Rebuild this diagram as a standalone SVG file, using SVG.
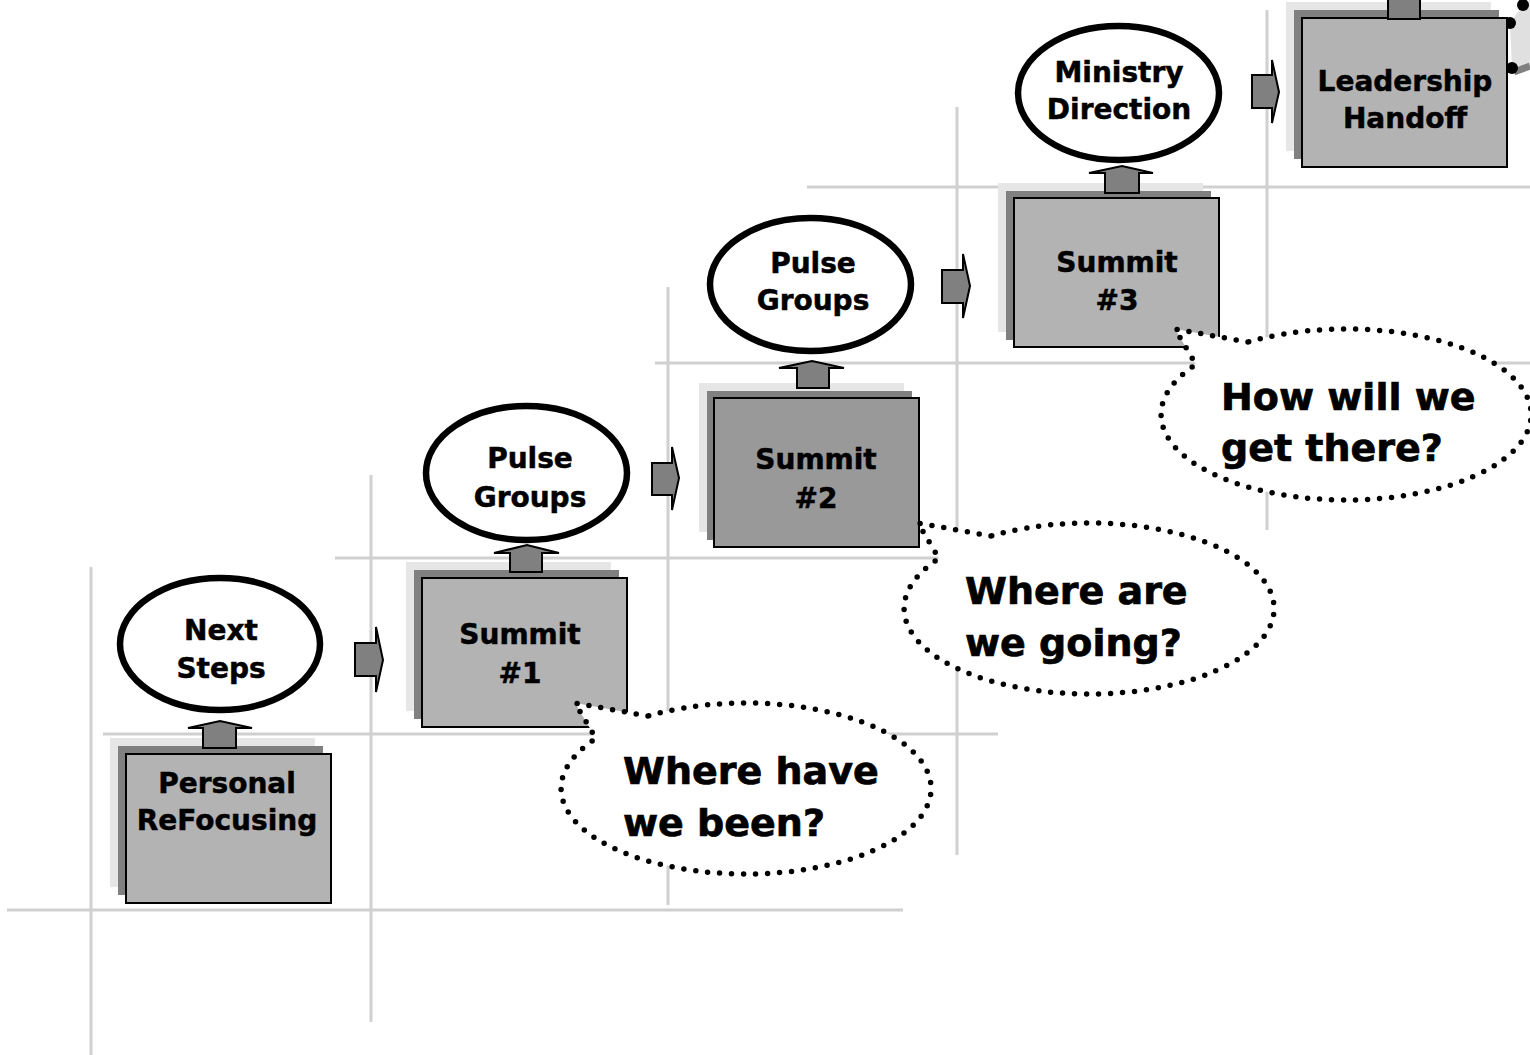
<svg xmlns="http://www.w3.org/2000/svg" width="1530" height="1055" viewBox="0 0 1530 1055">
<style>
.grid line{stroke:#d0d0d0;stroke-width:3}
.bk{fill:#e6e6e6}
.md{fill:#808080}
.fr{fill:#b3b3b3;stroke:#000;stroke-width:2}
.fr2{fill:#999999;stroke:#000;stroke-width:2}
.arr{fill:#808080;stroke:#000;stroke-width:2;stroke-linejoin:miter}
.ell{fill:#fff;stroke:#000;stroke-width:6.5}
.bub{fill:#fff;stroke:#000;stroke-width:5.5;stroke-dasharray:0 12;stroke-linecap:round;stroke-linejoin:round}
text{font-family:"DejaVu Sans","Verdana",sans-serif;font-weight:bold;fill:#000;stroke:#000}
.t28{font-size:28px;text-anchor:middle;stroke-width:0.5}
.t38{font-size:38px;stroke-width:0.7}
</style>
<rect x="0" y="0" width="1530" height="1055" fill="#fff"/>
<g class="grid" id="grid">
<line x1="91" y1="567" x2="91" y2="1055"/>
<line x1="7" y1="910" x2="903" y2="910"/>
<line x1="103" y1="734" x2="998" y2="734"/>
<line x1="371" y1="475" x2="371" y2="1022"/>
<line x1="335" y1="558" x2="1230" y2="558"/>
<line x1="668" y1="287" x2="668" y2="905"/>
<line x1="655" y1="363" x2="1530" y2="363"/>
<line x1="957" y1="107" x2="957" y2="855"/>
<line x1="807" y1="187" x2="1530" y2="187"/>
<line x1="1267" y1="10" x2="1267" y2="530"/>
</g>
<g id="partial-shape">
<polygon points="1510,23 1523,5 1530,0 1530,64 1512,68" fill="#e0e0e0"/>
<line x1="1514" y1="72" x2="1530" y2="66" stroke="#808080" stroke-width="7"/>
<circle cx="1523" cy="5" r="6" fill="#000"/>
<circle cx="1510" cy="23" r="6" fill="#000"/>
<circle cx="1512" cy="68" r="6" fill="#000"/>
</g>
<g id="box-personal">
<rect class="bk" x="110" y="738" width="205" height="149"/>
<rect class="md" x="118" y="746" width="205" height="149"/>
<rect class="fr" x="126" y="754" width="205" height="149"/>
<text class="t28" x="227" y="793">Personal</text>
<text class="t28" x="227" y="830">ReFocusing</text>
</g>
<g id="box-summit1">
<rect class="bk" x="406" y="562" width="205" height="149"/>
<rect class="md" x="414" y="570" width="205" height="149"/>
<rect class="fr" x="422" y="578" width="205" height="149"/>
<text class="t28" x="520" y="644">Summit</text>
<text class="t28" x="520" y="683">#1</text>
</g>
<g id="box-summit2">
<rect class="bk" x="699" y="383" width="205" height="149"/>
<rect class="md" x="707" y="391" width="205" height="149"/>
<rect class="fr2" x="714" y="398" width="205" height="149"/>
<text class="t28" x="816" y="469">Summit</text>
<text class="t28" x="816" y="508">#2</text>
</g>
<g id="box-summit3">
<rect class="bk" x="998" y="183" width="205" height="149"/>
<rect class="md" x="1006" y="191" width="205" height="149"/>
<rect class="fr" x="1014" y="198" width="205" height="149"/>
<text class="t28" x="1117" y="272">Summit</text>
<text class="t28" x="1117" y="310">#3</text>
</g>
<g id="box-leadership">
<rect class="bk" x="1286" y="2" width="205" height="149"/>
<rect class="md" x="1294" y="10" width="205" height="149"/>
<rect class="fr" x="1302" y="18" width="205" height="149"/>
<text class="t28" x="1405" y="91">Leadership</text>
<text class="t28" x="1405" y="128">Handoff</text>
</g>
<g id="connectors">
<polygon class="arr" points="355,643 376,643 376,627 383,660 376,692 376,676 355,676"/>
<polygon class="arr" points="652,463 672,463 672,447 679,478 672,510 672,495 652,495"/>
<polygon class="arr" points="942,270 963,270 963,254 970,286 963,318 963,303 942,303"/>
<polygon class="arr" points="1252,75 1272,75 1272,60 1279,92 1272,123 1272,108 1252,108"/>
<polygon class="arr" points="203,748 203,728 188,728 220,721 252,728 236,728 236,748"/>
<polygon class="arr" points="510,572 510,553 494,553 527,545 559,553 542,553 542,572"/>
<polygon class="arr" points="797,388 797,368 779,368 812,361 844,368 829,368 829,388"/>
<polygon class="arr" points="1105,193 1105,173 1089,173 1122,166 1153,173 1139,173 1139,193"/>
<polygon class="arr" points="1388,19 1388,-2 1372,-2 1404,-9 1436,-2 1420,-2 1420,19"/>
</g>
<g id="ellipse-next-steps">
<ellipse class="ell" cx="220" cy="644" rx="100" ry="66"/>
<text class="t28" x="221" y="640">Next</text>
<text class="t28" x="221" y="678">Steps</text>
</g>
<g id="ellipse-pulse1">
<ellipse class="ell" cx="526.5" cy="473" rx="100.5" ry="67"/>
<text class="t28" x="530" y="468">Pulse</text>
<text class="t28" x="530" y="507">Groups</text>
</g>
<g id="ellipse-pulse2">
<ellipse class="ell" cx="810.5" cy="284.5" rx="100.5" ry="66.5"/>
<text class="t28" x="813" y="273">Pulse</text>
<text class="t28" x="813" y="310">Groups</text>
</g>
<g id="ellipse-ministry">
<ellipse class="ell" cx="1118.5" cy="93" rx="100.5" ry="67"/>
<text class="t28" x="1119" y="82">Ministry</text>
<text class="t28" x="1119" y="119">Direction</text>
</g>
<g id="bubble-been">
<path class="bub" d="M648,716 L575,703 L596,738.5 A185,85.5 0 1 0 648,716 Z"/>
<text class="t38" x="623" y="784">Where have</text>
<text class="t38" x="623" y="836">we been?</text>
</g>
<g id="bubble-going">
<path class="bub" d="M991,536 L918,523 L939,558.5 A185,85.5 0 1 0 991,536 Z"/>
<text class="t38" x="965" y="604">Where are</text>
<text class="t38" x="965" y="656">we going?</text>
</g>
<g id="bubble-there">
<path class="bub" d="M1248,342 L1175,329 L1196,364.5 A185,85.5 0 1 0 1248,342 Z"/>
<text class="t38" x="1221" y="410">How will we</text>
<text class="t38" x="1221" y="461">get there?</text>
</g>
</svg>
